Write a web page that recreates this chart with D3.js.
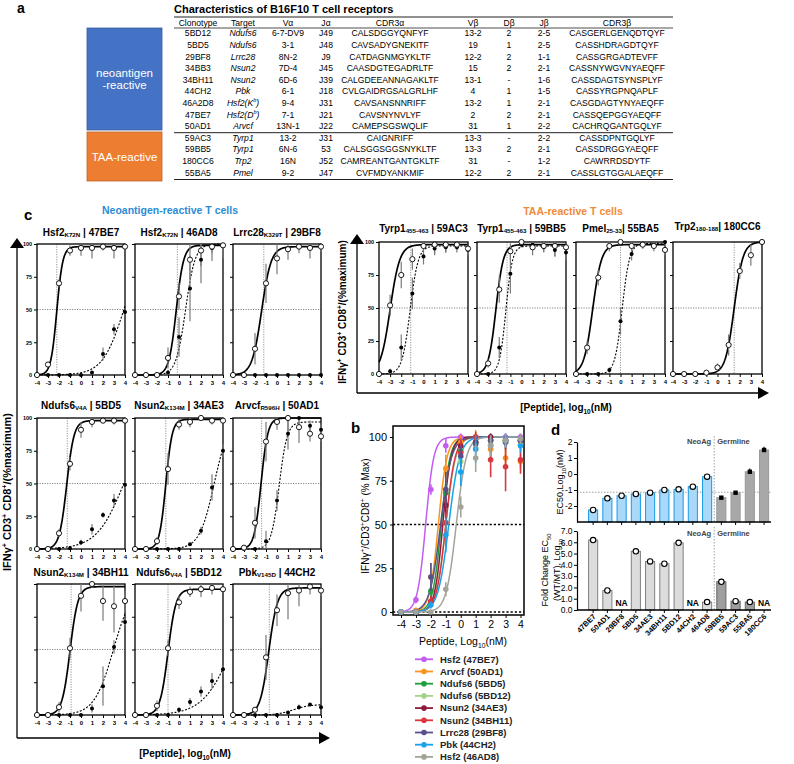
<!DOCTYPE html>
<html><head><meta charset="utf-8">
<script src="https://cdn.jsdelivr.net/npm/d3@7"></script>
<style>body{margin:0;background:#fff} svg{font-family:"Liberation Sans",Arial,sans-serif}</style>
</head><body><svg id="c" width="794" height="764"></svg>
<script>
// ================= DATA =================
// Panel a: table
const tableTitle = "Characteristics of B16F10 T cell receptors";
const tableHeader = ["Clonotype","Target","Vα","Jα","CDR3α","Vβ","Dβ","Jβ","CDR3β"];
const tableRows = [
 ["5BD12","Ndufs6","6-7-DV9","J49","CALSDGGYQNFYF","13-2","2","2-5","CASGERLGENQDTQYF"],
 ["5BD5","Ndufs6","3-1","J48","CAVSADYGNEKITF","19","1","2-5","CASSHDRAGDTQYF"],
 ["29BF8","Lrrc28","8N-2","J9","CATDAGNMGYKLTF","12-2","2","1-1","CASSGRGADTEVFF"],
 ["34BB3","Nsun2","7D-4","J45","CAASDGTEGADRLTF","15","2","2-1","CASSNYWGVNYAEQFF"],
 ["34BH11","Nsun2","6D-6","J39","CALGDEEANNAGAKLTF","13-1","-","1-6","CASSDAGTSYNSPLYF"],
 ["44CH2","Pbk","6-1","J18","CVLGAIDRGSALGRLHF","4","1","1-5","CASSYRGPNQAPLF"],
 ["46A2D8","Hsf2(K^b)","9-4","J31","CAVSANSNNRIFF","13-2","1","2-1","CASGDAGTYNYAEQFF"],
 ["47BE7","Hsf2(D^b)","7-1","J21","CAVSNYNVLYF","2","2","2-1","CASSQEPGGYAEQFF"],
 ["50AD1","Arvcf","13N-1","J22","CAMEPSGSWQLIF","31","1","2-2","CACHRQGANTGQLYF"],
 ["59AC3","Tyrp1","13-2","J31","CAIGNRIFF","13-3","-","2-2","CASSDPNTGQLYF"],
 ["59BB5","Tyrp1","6N-6","53","CALSGGSGGSNYKLTF","13-3","2","2-1","CASSDRGGYAEQFF"],
 ["180CC6","Trp2","16N","J52","CAMREANTGANTGKLTF","31","-","1-2","CAWRRDSDYTF"],
 ["55BA5","Pmel","9-2","J47","CVFMDYANKMIF","12-2","2","2-1","CASSLGTGGALAEQFF"]
];
const groupLabels = [["neoantigen","-reactive"],["TAA-reactive"]];
const groupColors = ["#4472C4","#ED7D31"];

// Panel c: dose-response, doses log10(nM)
const doses = [-4,-3,-2,-1,0,1,2,3,4];
const cTitles = [
 ["Hsf2","K72N","47BE7"],["Hsf2","K72N","46AD8"],["Lrrc28","K329T","29BF8"],
 ["Ndufs6","V4A","5BD5"],["Nsun2","K134M","34AE3"],["Arvcf","R596H","50AD1"],
 ["Nsun2","K134M","34BH11"],["Ndufs6","V4A","5BD12"],["Pbk","V145D","44CH2"],
 ["Tyrp1","455-463","59AC3"],["Tyrp1","455-463","59BB5"],["Pmel","25-33","55BA5"],["Trp2","180-188","180CC6"]
];
const cMT = [
 [0,8,70,95,97,97,98,97,98],
 [0,0,0,13,60,88,95,98,99],
 [0,0,20,70,89,96,98,97,98],
 [0,0,12,65,91,97,98,98,98],
 [0,0,6,61,95,97,100,98,98],
 [0,1,20,82,97,100,93,88,86],
 [0,0,6,51,91,100,87,83,87],
 [0,0,7,51,86,94,96,97,96],
 [0,0,4,44,80,93,95,98,95],
 [0,52,75,87,97,98,98,98,95],
 [0,8,64,93,100,96,97,97,96],
 [0,20,73,97,100,97,98,97,94],
 [0,0,0,1,5,22,78,90,100]
];
const cMTerr = [
 [0,2,3,4,6,8,3,8,3],
 [0,0,0,8,10,15,12,5,3],
 [0,0,12,15,12,8,5,8,4],
 [0,0,3,5,6,4,2,3,2],
 [0,0,3,12,4,4,2,3,2],
 [0,0,12,15,6,12,12,6,4],
 [0,0,4,8,12,3,15,20,8],
 [0,0,4,6,5,4,6,5,3],
 [0,0,2,17,12,20,12,6,4],
 [0,8,10,8,4,8,6,4,3],
 [0,3,10,6,2,6,4,8,3],
 [0,5,6,4,2,4,3,4,4],
 [0,0,0,1,3,8,6,8,0]
];
const cWT = [
 [0,0,0,0,0,2,16,35,48],
 [0,0,0,2,29,66,88,97,99],
 [0,0,0,0,0,0,0,0,0],
 [0,0,0,0.5,5,15,26,37,49],
 [0,0,0,0,0,3.6,14,47,75],
 [0,0,0,6,37,88,100,94,91],
 [0,0,0,0,0,5,22,52,71],
 [0,0,0,0,4,10,18,26,35],
 [0,0,0,0,0,2,6,8,6],
 [0,2,20,61,89,95,96,96,94],
 [0,0,20,76,98,98,96,94,92],
 [0,0,0,3,40,91,98,98,100],
 []
];
const cWTerr = [
 [0,0,0,0,0,1,5,4,2],
 [0,0,0,2,15,25,18,10,10],
 [0,0,0,0,0,0,0,0,0],
 [0,0,0,0,2,4,2,5,3],
 [0,0,0,0,0,1,3,10,5],
 [0,0,0,8,8,12,5,4,4],
 [0,0,0,0,0,3,15,5,3],
 [0,0,0,0,2,3,4,6,3],
 [0,0,0,0,0,1,2,1,1],
 [0,2,10,12,6,4,4,4,4],
 [0,0,8,15,2,3,4,5,6],
 [0,0,0,2,10,5,3,3,2],
 []
];
// fitted curve parameters [EC50, Hill slope, top]
const cMTfit = [[-2.2,1.6,98],[-0.25,1.3,99],[-1.4,1.0,98],[-1.3,1.3,98],[-1.2,1.5,99],[-1.45,1.4,100],[-1.0,1.2,98],[-1.0,1.2,96],[-0.75,1.1,97],
 [-3.0,1.0,98],[-2.3,1.3,98],[-2.5,1.1,98],[1.5,1.1,100]];
const cWTfit = [[3.9,0.45,100],[0.6,1.0,100],null,[3.9,0.35,100],[3.2,0.65,100],[0.2,1.2,97],[2.95,0.5,100],[4.8,0.33,100],[1.5,0.6,8],
 [-1.2,1.2,97],[-1.4,1.5,97],[0.15,1.3,99],null];
const cVline = [-2.2,-0.15,-1.2,-1.25,-1.2,-1.4,-0.9,-1.0,-0.7,-1.15,-1.3,0,1.5];

// Panel b
const bNames = ["Hsf2 (47BE7)","Arvcf (50AD1)","Ndufs6 (5BD5)","Ndufs6 (5BD12)","Nsun2 (34AE3)","Nsun2 (34BH11)","Lrrc28 (29BF8)","Pbk (44CH2)","Hsf2 (46AD8)"];
const bColors = ["#C45CF2","#F7931E","#1E9E3E","#A5D38A","#8E1B3A","#D9373F","#58508D","#1AA3E8","#A4A39A"];
const bValues = [
 [0,7,70,95,100,100,100,100,100],
 [0,1,20,82,97,100,93,88,86],
 [0,0,12,68,92,97,98,98,98],
 [0,0,6,51,86,94,96,97,96],
 [0,0,6,61,95,97,100,98,98],
 [0,0,6,51,91,100,87,83,87],
 [0,0,20,70,89,96,98,97,98],
 [0,0,4,44,80,93,95,98,95],
 [0,0,0,13,60,88,95,98,99]
];
const bErr = [
 [0,2,3,4,2,2,2,2,2],
 [0,0,8,8,4,4,6,6,4],
 [0,0,4,6,4,3,2,3,2],
 [0,0,3,5,4,4,5,4,3],
 [0,0,3,8,3,3,2,3,2],
 [0,0,3,6,8,3,10,14,8],
 [0,0,8,10,6,4,3,4,3],
 [0,0,2,10,8,8,6,4,4],
 [0,0,0,4,6,8,6,4,3]
];
const bFit = [[-2.35,1.6],[-1.5,1.5],[-1.3,1.5],[-1.0,1.3],[-1.2,1.6],[-1.0,1.4],[-1.35,1.2],[-0.8,1.2],[-0.3,1.3]];

// Panel d
const dCats = ["47BE7","50AD1","29BF8","5BD5","34AE3","34BH11","5BD12","44CH2","46AD8","59BB5","59AC3","55BA5","180CC6"];
const dGroupNeo = 9; // first 9 are NeoAg, rest Germline
const dEC50 = [-2.25,-1.52,-1.36,-1.25,-1.17,-1.0,-0.96,-0.79,-0.17,-1.48,-1.17,0.14,1.5];
const dEC50err = [0,0,0,0,0,0,0,0,0,0.04,0.04,0.2,0.2];
const dFold = [6.2,1.73,null,5.2,4.3,4.1,5.95,null,0.7,2.5,0.78,0.7,null];
const dRef = -1.14;

// ================= DRAW =================
const svg = d3.select('#c');
const hill = (x,e,h,top) => top/(1+Math.pow(10,(e-x)*h));

function rich(t, parts, fs){
  let off = 0;
  parts.forEach(([s,type])=>{
    let target=0, size=fs;
    if(type==='sub'){target=fs*0.3; size=fs*0.65;}
    if(type==='sup'){target=-fs*0.4; size=fs*0.65;}
    if(type==='csub'){target=fs*0.12; size=fs*0.62;}
    t.append('tspan').text(s).attr('font-size',size).attr('dy',target-off);
    off = target;
  });
}
function label(x,y,txt,fs){
  svg.append('text').attr('x',x).attr('y',y).attr('font-size',fs).attr('font-weight','bold').text(txt);
}

// ---- panel a
label(17,13,"a",14);
svg.append('text').attr('x',174).attr('y',13).attr('font-size',11).attr('font-weight','bold').text(tableTitle);
const colX = [198,243,288,326,390,473,509,544,617];
const rowY0 = 33.3, rowStep = 11.6;
const lineX1 = 174, lineX2 = 673;
[[17,1.2],[28,0.8],[132.7,1],[179.5,1]].forEach(([y,w])=>{
  svg.append('line').attr('x1',lineX1).attr('x2',lineX2).attr('y1',y).attr('y2',y).attr('stroke','#222').attr('stroke-width',w);
});
const fsT = 8.6;
tableHeader.forEach((h,j)=>{
  svg.append('text').attr('x',colX[j]).attr('y',23+3).attr('text-anchor','middle').attr('font-size',fsT).text(h);
});
tableRows.forEach((r,i)=>{
  const y = rowY0 + i*rowStep + 3;
  r.forEach((v,j)=>{
    const t = svg.append('text').attr('x',colX[j]).attr('y',y).attr('text-anchor','middle').attr('font-size',fsT);
    if(j===1){
      t.attr('font-style','italic');
      const m = v.split('^');
      if(m.length>1){ const a=m[0], b=m[1][0], c=m[1].slice(1); rich(t,[[a,'n'],[b,'sup'],[c,'n']],fsT); }
      else t.text(v);
    } else t.text(v);
  });
});
const boxes = [[28,130],[132,181]];
boxes.forEach(([y1,y2],i)=>{
  svg.append('rect').attr('x',87).attr('y',y1).attr('width',75).attr('height',y2-y1)
    .attr('fill',groupColors[i]).attr('stroke',d3.color(groupColors[i]).darker(0.6)).attr('stroke-width',0.8);
  const lines = groupLabels[i];
  const cy = (y1+y2)/2;
  lines.forEach((s,k)=>{
    svg.append('text').attr('x',124.5).attr('y',cy + (k-(lines.length-1)/2)*12 + 4)
      .attr('text-anchor','middle').attr('font-size',11.5).attr('fill','#fff').text(s);
  });
});

// ---- panel c
label(24,220,"c",15);
svg.append('text').attr('x',170).attr('y',214).attr('text-anchor','middle').attr('font-size',10.5).attr('font-weight','bold').attr('fill','#2B8CD6').text("Neoantigen-reactive T cells");
svg.append('text').attr('x',573).attr('y',215).attr('text-anchor','middle').attr('font-size',10.5).attr('font-weight','bold').attr('fill','#F08A3C').text("TAA-reactive T cells");

function arrowAxes(xv, yTop, yBot, xRight){
  svg.append('line').attr('x1',xv).attr('x2',xv).attr('y1',yTop+8).attr('y2',yBot).attr('stroke','#000').attr('stroke-width',1.3);
  svg.append('line').attr('x1',xv).attr('x2',xRight-8).attr('y1',yBot).attr('y2',yBot).attr('stroke','#000').attr('stroke-width',1.3);
  svg.append('path').attr('d',`M${xv-7},${yTop+10}L${xv},${yTop}L${xv+7},${yTop+10}Z`).attr('fill','#000');
  svg.append('path').attr('d',`M${xRight-11},${yBot-6}L${xRight},${yBot}L${xRight-11},${yBot+6}Z`).attr('fill','#000');
}
arrowAxes(17,238,738,330);
arrowAxes(357,234,393,769);

function rotLabel(x,y,parts,fs,weight){
  const t = svg.append('text').attr('transform',`translate(${x},${y}) rotate(-90)`).attr('text-anchor','middle')
    .attr('font-size',fs).attr('font-weight',weight||'bold');
  rich(t,parts,fs);
}
const ifnParts = [["IFNγ",'n'],["+",'sup'],[" CD3",'n'],["+",'sup'],[" CD8",'n'],["+",'sup'],["/(%maximum)",'n']];
rotLabel(11,492,ifnParts,11);
rotLabel(346,312,ifnParts,10);
function pepLabel(x,y){
  const t = svg.append('text').attr('x',x).attr('y',y).attr('text-anchor','middle').attr('font-size',10).attr('font-weight','bold');
  rich(t,[["[Peptide], log",'n'],["10",'sub'],["(nM)",'n']],10);
}
pepLabel(185,757);
pepLabel(566,411);

const xsFine = d3.range(-4,4.0001,0.04);
function dosePanel(i,x0,y0,w,h,showYLab,titleY){
  const x = d3.scaleLinear().domain([-4,4]).range([x0,x0+w]);
  const y = d3.scaleLinear().domain([0,100]).range([y0+h,y0]);
  const g = svg.append('g');
  const t = g.append('text').attr('x',x0+w/2).attr('y',titleY).attr('text-anchor','middle').attr('font-size',10).attr('font-weight','bold');
  const tt = cTitles[i];
  rich(t,[[tt[0],'n'],[tt[1],'csub'],[(i===11||i===12?"| ":" | ")+tt[2],'n']],10);
  g.append('line').attr('x1',x0).attr('x2',x0+w).attr('y1',y(50)).attr('y2',y(50)).attr('stroke','#333').attr('stroke-width',0.6).attr('stroke-dasharray','1.2,1.3');
  g.append('line').attr('x1',x(cVline[i])).attr('x2',x(cVline[i])).attr('y1',y0).attr('y2',y0+h).attr('stroke','#666').attr('stroke-width',0.7).attr('stroke-dasharray','1.2,1.3');
  const ax = g.append('g').attr('transform',`translate(0,${y0+h})`)
    .call(d3.axisBottom(x).tickValues(doses).tickSize(3).tickSizeOuter(0).tickFormat(d=>String(d)));
  ax.select('.domain').remove();
  ax.selectAll('text').attr('font-size',6).attr('font-weight','bold').attr('dy','0.6em').attr('font-family','Liberation Sans, Arial');
  ax.selectAll('line').attr('stroke-width',1);
  const ay = g.append('g').attr('transform',`translate(${x0},0)`)
    .call(d3.axisLeft(y).tickValues([0,25,50,75,100]).tickSize(3).tickSizeOuter(0).tickFormat(d=>showYLab?String(d):""));
  ay.select('.domain').remove();
  ay.selectAll('text').attr('font-size',5.5).attr('font-weight','bold').attr('font-family','Liberation Sans, Arial').attr('dx','0.2em');
  g.append('rect').attr('x',x0).attr('y',y0).attr('width',w).attr('height',h).attr('fill','none').attr('stroke','#000').attr('stroke-width',1.3);
  const clampY = v => Math.max(0,Math.min(100,v));
  const line = d3.line().x(d=>x(d[0])).y(d=>y(clampY(d[1])));
  if(cWTfit[i]){
    const f=cWTfit[i];
    g.append('path').attr('d',line(xsFine.map(v=>[v,hill(v,f[0],f[1],f[2])]))).attr('fill','none').attr('stroke','#000').attr('stroke-width',1.1).attr('stroke-dasharray','2,1.6');
  }
  const fm=cMTfit[i];
  g.append('path').attr('d',line(xsFine.map(v=>[v,hill(v,fm[0],fm[1],fm[2])]))).attr('fill','none').attr('stroke','#000').attr('stroke-width',1.7);
  const errs = (vals,errs)=>vals.forEach((v,k)=>{
    if(!errs[k]) return;
    g.append('line').attr('x1',x(doses[k])).attr('x2',x(doses[k])).attr('y1',y(clampY(v-errs[k]))).attr('y2',y(clampY(v+errs[k])))
      .attr('stroke','#7a7a7a').attr('stroke-width',1.2);
  });
  errs(cWT[i],cWTerr[i]); errs(cMT[i],cMTerr[i]);
  cWT[i].forEach((v,k)=>g.append('circle').attr('cx',x(doses[k])).attr('cy',y(v)).attr('r',2).attr('fill','#000'));
  cMT[i].forEach((v,k)=>g.append('circle').attr('cx',x(doses[k])).attr('cy',y(v)).attr('r',2.6).attr('fill','#fff').attr('stroke','#000').attr('stroke-width',0.9));
}
const neoX = [37,135,233], neoY = [244,418,584], neoTitleY = [236,409,576];
for(let i=0;i<9;i++){
  const c=i%3, r=Math.floor(i/3);
  dosePanel(i,neoX[c],neoY[r],88,131,c===0&&r<2,neoTitleY[r]);
}
const taaX = [379,477,576,673];
for(let j=0;j<4;j++) dosePanel(9+j,taaX[j],242,89,132,j===0,j===3?230:232);

// ---- panel b
label(351,433,"b",15);
(function(){
  const L=393,R=524,T=426,B=615;
  const x = d3.scaleLinear().domain([-4,4]).range([401,520.5]);
  const y = d3.scaleLinear().domain([0,100]).range([612,437]);
  const g = svg.append('g');
  [0,50].forEach(v=>g.append('line').attr('x1',L).attr('x2',R).attr('y1',y(v)).attr('y2',y(v)).attr('stroke','#000').attr('stroke-width',1.3).attr('stroke-dasharray','2.2,2'));
  const ax = g.append('g').attr('transform',`translate(0,${B})`).call(d3.axisBottom(x).tickValues(doses).tickSize(3).tickSizeOuter(0).tickFormat(d=>String(d)));
  ax.select('.domain').remove();
  ax.selectAll('text').attr('font-size',10.5).attr('font-family','Liberation Sans, Arial');
  const ay = g.append('g').attr('transform',`translate(${L},0)`).call(d3.axisLeft(y).tickValues([0,25,50,75,100]).tickSize(3).tickSizeOuter(0));
  ay.select('.domain').remove();
  ay.selectAll('text').attr('font-size',11).attr('font-family','Liberation Sans, Arial');
  g.append('rect').attr('x',L).attr('y',T).attr('width',R-L).attr('height',B-T).attr('fill','none').attr('stroke','#000').attr('stroke-width',1.5);
  const line = d3.line().x(d=>x(d[0])).y(d=>y(d[1]));
  bFit.forEach((f,s)=>{
    g.append('path').attr('d',line(xsFine.map(v=>[v,hill(v,f[0],f[1],100)]))).attr('fill','none').attr('stroke',bColors[s]).attr('stroke-width',1.5);
  });
  bValues.forEach((vals,s)=>{
    vals.forEach((v,k)=>{
      if(bErr[s][k]) g.append('line').attr('x1',x(doses[k])).attr('x2',x(doses[k])).attr('y1',y(Math.max(-1,v-bErr[s][k]))).attr('y2',y(v+bErr[s][k])).attr('stroke',bColors[s]).attr('stroke-width',1.6);
      g.append('circle').attr('cx',x(doses[k])).attr('cy',y(v)).attr('r',2.8).attr('fill',bColors[s]);
    });
  });
  const tx = svg.append('text').attr('x',463).attr('y',645).attr('text-anchor','middle').attr('font-size',10.5);
  rich(tx,[["Peptide, Log",'n'],["10",'sub'],["(nM)",'n']],10.5);
  rotLabel(369,516,[["IFNγ",'n'],["+",'sup'],["/CD3",'n'],["+",'sup'],["CD8",'n'],["+",'sup'],[" (% Max)",'n']],10,'normal');
  bNames.forEach((n,s)=>{
    const yy = 659.3 + s*12.2;
    svg.append('line').attr('x1',415).attr('x2',433).attr('y1',yy).attr('y2',yy).attr('stroke',bColors[s]).attr('stroke-width',1.8);
    svg.append('circle').attr('cx',424).attr('cy',yy).attr('r',2.8).attr('fill',bColors[s]);
    svg.append('text').attr('x',440).attr('y',yy+3.3).attr('font-size',9.5).attr('font-weight','bold').attr('fill','#222').text(n);
  });
})();

// ---- panel d
label(551,435,"d",15);
(function(){
  const AX=577, XR=771;
  const xb = d3.scaleBand().domain(dCats).range([586,771.2]).paddingInner(0.36).paddingOuter(0.18);
  const bw = xb.bandwidth();
  const cx = c => xb(c)+bw/2;
  const divX = (cx(dCats[dGroupNeo-1])+cx(dCats[dGroupNeo]))/2;
  const yt = d3.scaleLinear().domain([-3,2]).range([522,442]);
  const g = svg.append('g');
  g.append('line').attr('x1',AX).attr('x2',XR).attr('y1',yt(dRef)).attr('y2',yt(dRef)).attr('stroke','#888').attr('stroke-width',0.8).attr('stroke-dasharray','1.5,1.5');
  g.append('line').attr('x1',divX).attr('x2',divX).attr('y1',436).attr('y2',522).attr('stroke','#888').attr('stroke-width',0.8).attr('stroke-dasharray','1.5,1.5');
  dCats.forEach((c,i)=>{
    const neo = i<dGroupNeo;
    const v = dEC50[i];
    g.append('rect').attr('x',xb(c)).attr('y',yt(v)).attr('width',bw).attr('height',yt(-3)-yt(v))
      .attr('fill',neo?'#A9D8F8':'#A8A8A8').attr('stroke',neo?'#1A9BE6':'#999').attr('stroke-width',1);
    if(neo){
      g.append('circle').attr('cx',cx(c)).attr('cy',yt(v)).attr('r',2.7).attr('fill','#fff').attr('stroke','#000').attr('stroke-width',1.1);
    } else {
      if(dEC50err[i]) g.append('line').attr('x1',cx(c)).attr('x2',cx(c)).attr('y1',yt(v)).attr('y2',yt(v+dEC50err[i])).attr('stroke','#000').attr('stroke-width',1.1);
      g.append('rect').attr('x',cx(c)-2.2).attr('y',yt(v)-2.2).attr('width',4.4).attr('height',4.4).attr('fill','#000');
    }
  });
  const ay = g.append('g').attr('transform',`translate(${AX},0)`).call(d3.axisLeft(yt).tickValues([-2,-1,0,1,2]).tickSize(3).tickPadding(1.5).tickSizeOuter(0).tickFormat(d=>String(d)));
  ay.select('.domain').attr('stroke-width',1.2);
  ay.selectAll('text').attr('font-size',8.5).attr('font-family','Liberation Sans, Arial');
  g.append('line').attr('x1',AX).attr('x2',XR).attr('y1',522).attr('y2',522).attr('stroke','#000').attr('stroke-width',1.3);
  dCats.forEach(c=>g.append('line').attr('x1',cx(c)).attr('x2',cx(c)).attr('y1',522).attr('y2',525).attr('stroke','#000'));
  g.append('text').attr('x',divX-3).attr('y',444).attr('text-anchor','end').attr('font-size',7.5).attr('font-weight','bold').attr('fill','#444').text("NeoAg");
  g.append('text').attr('x',divX+3).attr('y',444).attr('font-size',7.5).attr('font-weight','bold').attr('fill','#444').text("Germline");
  rotLabel(563,482,[["EC50,Log",'n'],["10",'sub'],["(nM)",'n']],9,'normal');

  const yb = d3.scaleLinear().domain([0,7]).range([610,531]);
  g.append('line').attr('x1',divX).attr('x2',divX).attr('y1',527).attr('y2',610).attr('stroke','#888').attr('stroke-width',0.8).attr('stroke-dasharray','1.5,1.5');
  dCats.forEach((c,i)=>{
    const neo = i<dGroupNeo;
    const v = dFold[i];
    if(v===null){
      g.append('text').attr('x',cx(c)).attr('y',606).attr('text-anchor','middle').attr('font-size',8.5).attr('font-weight','bold').text("NA");
      return;
    }
    g.append('rect').attr('x',xb(c)).attr('y',yb(v)).attr('width',bw).attr('height',yb(0)-yb(v))
      .attr('fill',neo?'#DCDCDC':'#9E9E9E').attr('stroke',neo?'#808080':'#666').attr('stroke-width',1);
    g.append('circle').attr('cx',cx(c)).attr('cy',yb(v)).attr('r',2.7).attr('fill','#fff').attr('stroke','#000').attr('stroke-width',1.1);
  });
  const ay2 = g.append('g').attr('transform',`translate(${AX},0)`).call(d3.axisLeft(yb).tickValues(d3.range(0,8)).tickSize(3).tickPadding(1.5).tickSizeOuter(0));
  ay2.select('.domain').attr('stroke-width',1.2);
  ay2.selectAll('text').attr('font-size',8.5).attr('font-family','Liberation Sans, Arial');
  g.append('line').attr('x1',AX).attr('x2',XR).attr('y1',610).attr('y2',610).attr('stroke','#000').attr('stroke-width',1.3);
  dCats.forEach(c=>{
    g.append('line').attr('x1',cx(c)).attr('x2',cx(c)).attr('y1',610).attr('y2',613).attr('stroke','#000');
    g.append('text').attr('transform',`translate(${cx(c)+3},${617}) rotate(-45)`).attr('text-anchor','end').attr('font-size',7.5).attr('font-weight','bold').text(c);
  });
  g.append('text').attr('x',divX-3).attr('y',536).attr('text-anchor','end').attr('font-size',7.5).attr('font-weight','bold').attr('fill','#444').text("NeoAg");
  g.append('text').attr('x',divX+3).attr('y',536).attr('font-size',7.5).attr('font-weight','bold').attr('fill','#444').text("Germline");
  rotLabel(548,570,[["Fold Change EC",'n'],["50",'sub']],9,'normal');
  rotLabel(560,570,[["(WT/MT), Log",'n'],["10",'sub']],9,'normal');
})();
</script></body></html>
